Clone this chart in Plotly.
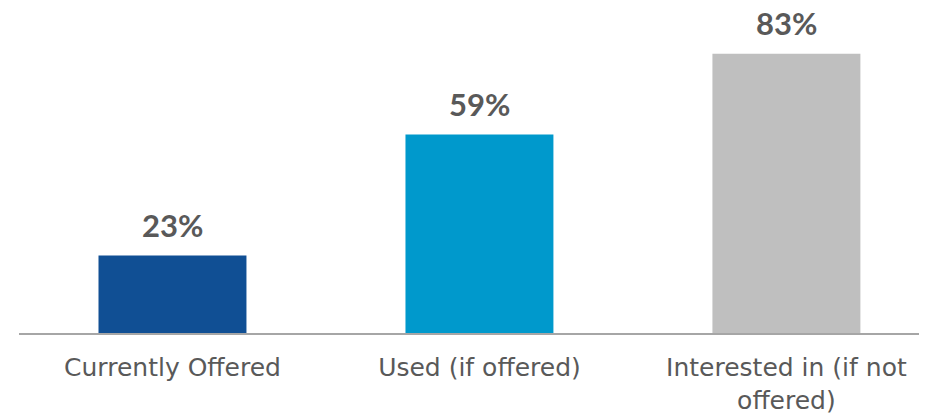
import plotly.graph_objects as go

categories = ["Currently Offered", "Used (if offered)", "Interested in (if not<br>offered)"]
values = [23, 59, 83]
labels = ["23%", "59%", "83%"]
colors = ["#104F94", "#0099CC", "#BFBFBF"]

fig = go.Figure(
    go.Bar(
        x=categories,
        y=values,
        marker=dict(color=colors, line=dict(width=0)),
        width=0.482,
        cliponaxis=False,
    )
)

# value labels above each bar
for cat, val, lab in zip(categories, values, labels):
    fig.add_annotation(
        x=cat, y=val, text=lab,
        showarrow=False, yanchor="bottom", yshift=14, height=30,
        font=dict(family="Lato", size=31, color="#595959", weight="bold"),
    )

# page body has an 8px margin, so the figure is sized to fit the window
fig.update_layout(
    width=919,
    height=405,
    plot_bgcolor="white",
    paper_bgcolor="white",
    margin=dict(l=11, r=0, t=0, b=79.5, autoexpand=False),
    showlegend=False,
    font=dict(family="DejaVu Sans", color="#595959"),
)

fig.update_xaxes(
    range=[-0.5, 2.458],
    automargin=False,
    showline=True,
    linecolor="#A6A6A6",
    linewidth=2,
    ticks="",
    ticklabelstandoff=11,
    tickfont=dict(family="DejaVu Sans", size=25, color="#595959"),
    showgrid=False,
)
fig.update_yaxes(
    range=[0, 96.6],
    automargin=False,
    visible=False,
    showgrid=False,
    zeroline=False,
)

fig.write_html("out.html")
